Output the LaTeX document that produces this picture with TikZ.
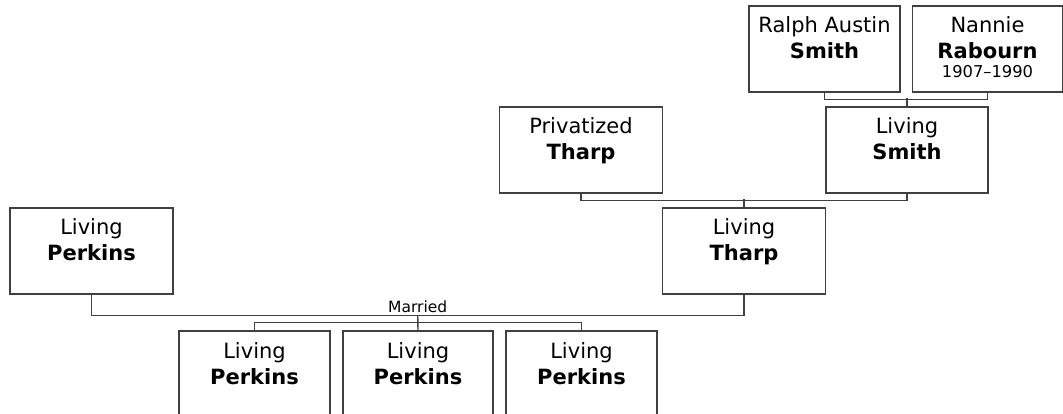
\documentclass[tikz,border=0pt]{standalone}
\usepackage{fontspec}
\setmainfont{DejaVu Sans}
\usetikzlibrary{calc}
\definecolor{linie}{RGB}{64,64,64}

\newcommand{\ahn}[3][163pt]{\parbox[c][86pt][t]{#1}{\centering\rule{0pt}{27pt}#2\\\textbf{#3}}}

\begin{document}
\begin{tikzpicture}[x=1pt, y=-1pt, linie, line width=1.5pt,
	ahnbox/.style={draw, rectangle, inner sep=0pt, text=black, font=\fontsize{21}{26}\selectfont},
	verb/.style={line width=1.4pt}]

	\useasboundingbox (0,0) rectangle (1063,414);

	% Grosseltern
	\node[ahnbox] (ralph) at (824.5,49) {\ahn[151pt]{Ralph Austin}{Smith}};
	\node[ahnbox] (nannie) at (987.5,49) {\parbox[c][86pt][t]{150pt}{\centering\rule{0pt}{27pt}Nannie\\\textbf{Rabourn}\\[-7pt]{\fontsize{16.3}{20}\selectfont 1907--1990}}};

	% Eltern
	\node[ahnbox] (ptharp) at (581,150) {\ahn{Privatized}{Tharp}};
	\node[ahnbox] (lsmith) at (907,150) {\ahn[162pt]{Living}{Smith}};

	\node[ahnbox] (lperk) at (91.5,251) {\ahn{Living}{Perkins}};
	\node[ahnbox] (ltharp) at (744,251) {\ahn{Living}{Tharp}};

	% Kinder
	\node[ahnbox] (kind1) at (254.5,374) {\ahn[151pt]{Living}{Perkins}};
	\node[ahnbox] (kind2) at (418,374) {\ahn[150pt]{Living}{Perkins}};
	\node[ahnbox] (kind3) at (581.5,374) {\ahn[151pt]{Living}{Perkins}};

	% Verbindungen
	\draw[verb] (ralph.south) -- ++(0,7) -| (nannie.south);
	\draw[verb] (lsmith.north) -- ++(0,-8);

	\draw[verb] (ptharp.south) -- ++(0,7) -| (lsmith.south);
	\draw[verb] (ltharp.north) -- ++(0,-8);

	\draw[verb] (lperk.south) -- ++(0,21) -| (ltharp.south)
		node[pos=0.25, above=-1pt, text=black, font=\fontsize{15.5}{18}\selectfont] (heirat) {Married};
	\coordinate (ehe) at ($(lperk.south)!0.5!(ltharp.south)+(0,21)$);
	\draw[verb] (kind1.north) -- ++(0,-8) -| (kind3.north);
	\draw[verb] (ehe) -- (kind2.north);

\end{tikzpicture}
\end{document}
